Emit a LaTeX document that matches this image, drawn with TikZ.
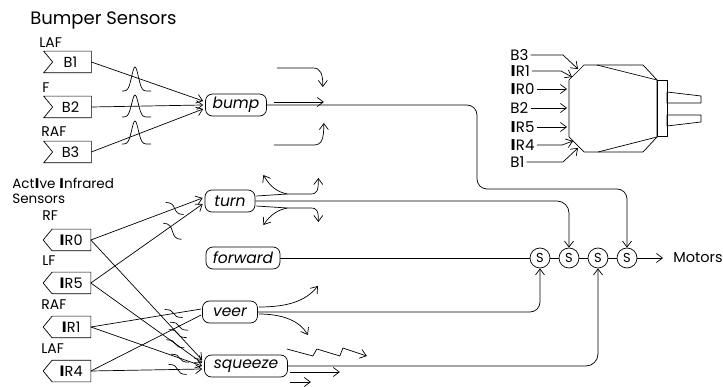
\documentclass[tikz,border=0pt]{standalone}
\usepackage{fontspec}
\setmainfont{Poppins}
\newfontfamily\barfont{DejaVu Sans}
\usetikzlibrary{arrows.meta,calc}

% sensor outlines drawn around a plain node
\newcommand\bumpsensor[3]{%
  \node[sensorbox] (#1) at (#2) {\hspace{6pt}#3};
  \draw (#1.north west) -- (#1.north east) -- (#1.south east) -- (#1.south west)
        -- ($(#1.west)+(9,0)$) -- cycle;}
\newcommand\irsensor[3]{%
  \node[sensorbox] (#1) at (#2) {\hspace{8pt}#3};
  \draw ($(#1.north west)+(9,0)$) -- (#1.north east) -- (#1.south east)
        -- ($(#1.south west)+(9,0)$) -- (#1.west) -- cycle;}
% the heavy capital I of the infrared labels
\newcommand\IRbar{{\barfont\bfseries I}}

\begin{document}
\begin{tikzpicture}[x=1pt,y=-1pt,line width=0.7pt,line join=round,
  tip/.style={-{Straight Barb[length=6pt,width=9pt,line width=0.7pt]}},
  behav/.style={draw,rounded corners=7pt,minimum height=22pt,inner sep=0pt,
    font=\fontsize{15.5}{15.5}\selectfont\itshape},
  sensorbox/.style={minimum width=47pt,minimum height=21pt,inner sep=0pt,
    font=\fontsize{14.5}{14.5}\selectfont},
  lbl/.style={anchor=west,inner sep=0pt,font=\fontsize{14}{14}\selectfont},
  rlbl/.style={anchor=west,inner sep=2pt,font=\fontsize{15}{15}\selectfont},
  sw/.style={draw,circle,minimum size=20pt,inner sep=0pt,font=\fontsize{13}{13}\selectfont},
  pics/inhib/.style={code={\draw[-] (-9,-#1) .. controls (-3,-#1) and (-1.5,{-0.6*#1}) .. (0,0)
      .. controls (1.5,{0.6*#1}) and (3,#1) .. (9,#1);}}
]
\useasboundingbox (0,0) rectangle (723,387);

% ---------- headings ----------
\node[lbl,font=\fontsize{18}{18}\selectfont] (hbump) at (30,20) {Bumper Sensors};
\node[lbl,font=\fontsize{13.5}{13.5}\selectfont] (hir1) at (12,183) {Act\IRbar ve \IRbar nfrared};
\node[lbl,font=\fontsize{13.5}{13.5}\selectfont] (hir2) at (12,199) {Sensors};

% ---------- bumper sensors ----------
\bumpsensor{b1}{67.5,62}{B1}
\bumpsensor{b2}{67.5,107}{B2}
\bumpsensor{b3}{67.5,152}{B3}
\node[lbl] (lb1) at (39,43) {LAF};
\node[lbl] (lb2) at (42,88) {F};
\node[lbl] (lb3) at (41,132) {RAF};

% ---------- infrared sensors ----------
\irsensor{ir0}{67,240}{\IRbar R0}
\irsensor{ir5}{67,283}{\IRbar R5}
\irsensor{ir1}{67,327}{\IRbar R1}
\irsensor{ir4}{67,371}{\IRbar R4}
\node[lbl] (lr0) at (42,216) {RF};
\node[lbl] (lr5) at (42,261) {LF};
\node[lbl] (lr1) at (41,305) {RAF};
\node[lbl] (lr4) at (41,349) {LAF};

% ---------- behaviours ----------
\node[behav,minimum width=61pt] (bump) at (236,105) {bump};
\node[behav,minimum width=50pt] (turn) at (230,201) {turn};
\node[behav,minimum width=74pt] (forward) at (243,258) {forward};
\node[behav,minimum width=55pt] (veer) at (230,312) {veer};
\node[behav,minimum width=83pt] (squeeze) at (246,366) {squeeze};

% ---------- suppressor nodes and motors ----------
\node[sw] (s1) at (540,258) {S};
\node[sw] (s2) at (569,258) {S};
\node[sw] (s3) at (598,258) {S};
\node[sw] (s4) at (627,258) {S};
\node[anchor=west,inner sep=0pt,font=\fontsize{14.5}{14.5}\selectfont] (motors) at (673,258) {Motors};

% ---------- bumper inputs ----------
\draw[tip] (b1.east) -- ($(bump.west)+(-2,-4)$);
\draw[tip] (b2.east) -- ($(bump.west)+(-2,0)$);
\draw[tip] (b3.east) -- ($(bump.west)+(-2,4)$);
\foreach \b/\base/\h in {1/91/24, 2/117/22, 3/144/23}
  \draw plot[domain=-13:16,samples=60,smooth] ({135+\x},{\base-\h*exp(-(\x*\x)/22)});

% ---------- infrared inputs ----------
\draw[tip] (ir0.east) -- ($(turn.west)+(-2,-3)$);
\draw[tip] (ir5.east) -- ($(turn.west)+(-2,3)$);
\draw (ir1.east) -- ($(veer.west)+(-1,-3)$);
\draw (ir4.east) -- ($(veer.west)+(-1,3)$);
\draw[tip] (ir0.east) -- ($(squeeze.west)+(-2,-6)$);
\draw[tip] (ir5.east) -- ($(squeeze.west)+(-2,-3)$);
\draw[tip] (ir1.east) -- ($(squeeze.west)+(-2,0)$);
\draw[tip] (ir4.east) -- ($(squeeze.west)+(-2,3)$);

% inhibition marks on the infrared inputs
\path (ir0.east) -- ($(turn.west)+(-2,-3)$) pic[pos=0.75]{inhib=6};
\path (ir5.east) -- ($(turn.west)+(-2,3)$) pic[pos=0.73,yshift=-6pt]{inhib=8};
\path (ir1.east) -- ($(veer.west)+(-1,-3)$) pic[pos=0.75]{inhib=4};
\path (ir4.east) -- ($(veer.west)+(-1,3)$) pic[pos=0.8]{inhib=4};
\path (ir0.east) -- ($(squeeze.west)+(-2,-6)$) pic[pos=0.78]{inhib=4};
\path (ir5.east) -- ($(squeeze.west)+(-2,-3)$) pic[pos=0.76]{inhib=4};
\path (ir1.east) -- ($(squeeze.west)+(-2,0)$) pic[pos=0.8]{inhib=4};
\path (ir4.east) -- ($(squeeze.west)+(-2,3)$) pic[pos=0.78]{inhib=5};

% ---------- outputs to the suppressors ----------
\coordinate (bumpbend) at (477,189);
\draw[tip,rounded corners=10pt] (bump.east) -| (bumpbend) -| (s4.north);
\draw[tip,rounded corners=12pt] (turn.east) -| (s2.north);
\draw (forward.east) -- (s1.west);
\draw[tip,rounded corners=10pt] (veer.east) -| (s1.south);
\draw[tip,rounded corners=12pt] (squeeze.east) -| (s3.south);
\draw (s1.east) -- (s2.west);
\draw (s2.east) -- (s3.west);
\draw (s3.east) -- (s4.west);
\draw[tip] (s4.east) -- ($(motors.west)+(-10,0)$);

% ---------- motion sketches next to the behaviours ----------
\begin{scope}[shift={(bump.east)}]
  \draw[tip] (10,-37) -- (46,-37) .. controls (54,-37) and (56,-31) .. (56,-18);
  \draw[tip] (7,-3) -- (57,-3);
  \draw[tip] (7,40) -- (47,40) .. controls (55,40) and (57,34) .. (57,18);
\end{scope}
\begin{scope}[shift={(turn.east)}]
  \draw (1,-5) -- (32,-7);
  \draw[tip] (32,-7) .. controls (22,-9) and (15,-14) .. (8,-26);
  \draw[tip] (32,-7) -- (55,-7) .. controls (62,-7) and (63,-10) .. (63,-23);
  \draw (1,5) -- (32,7);
  \draw[tip] (32,7) .. controls (22,9) and (15,14) .. (8,24);
  \draw[tip] (32,7) -- (55,7) .. controls (62,7) and (63,10) .. (63,21);
\end{scope}
\begin{scope}[shift={(veer.east)}]
  \draw[tip] (1,-5) .. controls (30,-5) and (48,-11) .. (60,-26);
  \draw[tip] (1,2) .. controls (25,2) and (42,9) .. (50,23);
\end{scope}
\begin{scope}[shift={(squeeze.east)}]
  \draw[tip] (-1,-17) -- (25,-10) -- (29,-17) -- (52,-10) -- (55,-18) -- (79,-10);
  \draw[tip] (2,6) -- (52,6);
  \draw[tip] (2,16) -- (23,16);
\end{scope}

% ---------- robot outline with its sensor positions ----------
\draw (569,80) -- (584,65) -- (643,65) -- (657,80) -- (657,137) -- (643,152)
      -- (584,152) -- (569,137) -- cycle;
\draw (597,65) -- (657,80);
\draw (598,152) -- (657,137);
\draw (657,80) rectangle (667,136);
\draw (667,92) -- (701,96) -- (701,103) -- (667,103) -- cycle;
\draw (667,115) -- (701,115) -- (701,122) -- (667,126) -- cycle;

\node[rlbl] (rb3) at (508,55) {B3};
\node[rlbl] (rr1) at (508,71) {\IRbar R1};
\node[rlbl] (rr0) at (508,89) {\IRbar R0};
\node[rlbl] (rb2) at (508,108) {B2};
\node[rlbl] (rr5) at (508,127) {\IRbar R5};
\node[rlbl] (rr4) at (508,145) {\IRbar R4};
\node[rlbl] (rb1) at (508,162) {B1};

\draw[tip] (rb3.east) -- (563,55) -- (578,69);
\draw[tip] (rr1.east) -- (561,71) -- (572,77);
\draw[tip] (rr0.east) -- (567,89);
\draw[tip] (rb2.east) -- (567,108);
\draw[tip] (rr5.east) -- (567,127);
\draw[tip] (rr4.east) -- (562,145) -- (573,141);
\draw[tip] (rb1.east) -- (563,162) -- (578,148);
\end{tikzpicture}
\end{document}
